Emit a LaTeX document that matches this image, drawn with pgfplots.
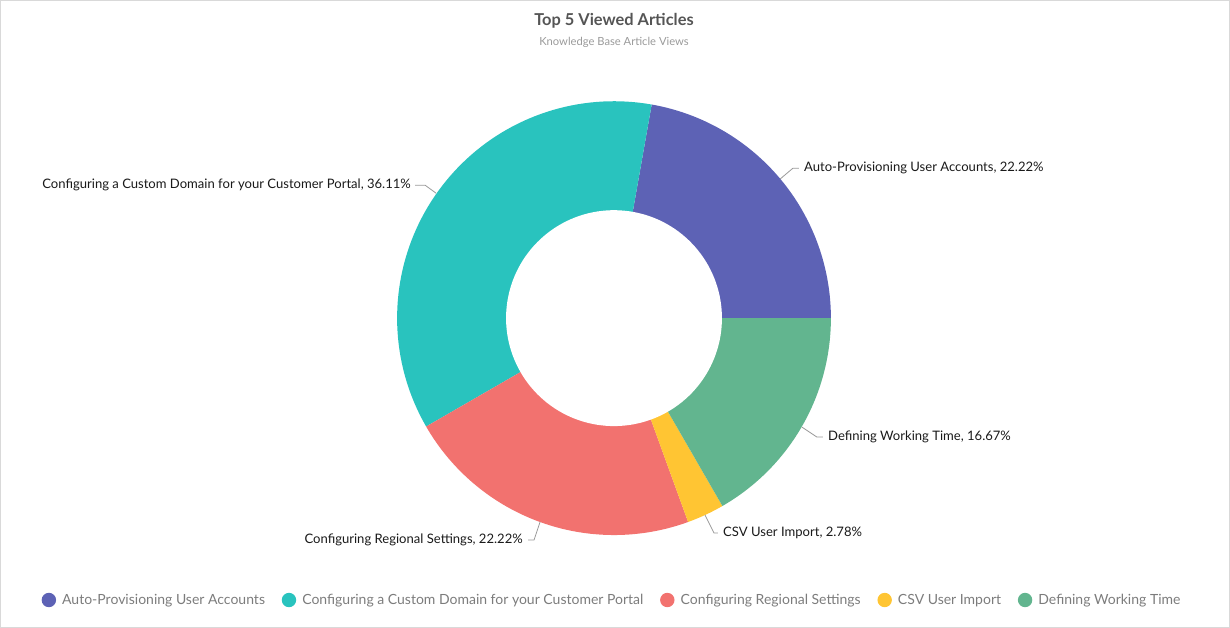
\documentclass[border=0pt]{standalone}
\usepackage{pgfplots}
\pgfplotsset{compat=1.18}
\usepackage{fontspec}
\setmainfont{Lato}
\definecolor{cA}{HTML}{5D62B5}
\definecolor{cB}{HTML}{29C3BE}
\definecolor{cC}{HTML}{F2726F}
\definecolor{cD}{HTML}{FFC533}
\definecolor{cE}{HTML}{62B58F}
\definecolor{titlec}{HTML}{555555}
\definecolor{subc}{HTML}{9A9A9A}
\definecolor{legc}{HTML}{7C7C7C}
\definecolor{labc}{HTML}{1A1A1A}
\definecolor{leadc}{HTML}{9A9A9A}
\begin{document}
\begin{tikzpicture}
% data: percentages of views
\def\vA{22.22}\def\vB{36.11}\def\vC{22.22}\def\vD{2.78}\def\vE{16.67}
\pgfmathsetmacro\aA{0}
\pgfmathsetmacro\aB{\aA+3.6*\vA}
\pgfmathsetmacro\aC{\aB+3.6*\vB}
\pgfmathsetmacro\aD{\aC+3.6*\vC}
\pgfmathsetmacro\aE{\aD+3.6*\vD}
\pgfmathsetmacro\aF{\aE+3.6*\vE}
\def\cx{614}\def\cy{318}\def\R{217}\def\r{108}
\begin{axis}[
  scale only axis, width=922.5pt, height=470.25pt,
  xmin=0, xmax=1230, ymin=0, ymax=627, y dir=reverse,
  xtick=\empty, ytick=\empty,
  axis line style={draw=black!15},
  clip=false,
  legend image code/.code={\fill[#1] (6pt,0pt) circle (5.4pt); \path (0pt,0pt) (14pt,0pt);},
  legend style={at={(axis cs:612,600)}, anchor=center, draw=none, fill=none,
    font=\fontsize{10.5pt}{12pt}\selectfont, text=legc,
    /tikz/every even column/.append style={column sep=10pt}},
  legend columns=-1,
]
\addplot[fill=cA, draw=none, domain=\aA:\aB, samples=80, variable=\t] ({\cx+\R*cos(\t)},{\cy-\R*sin(\t)}) -- (axis cs:\cx,\cy) -- cycle;
\addplot[fill=cB, draw=none, domain=\aB:\aC, samples=80, variable=\t] ({\cx+\R*cos(\t)},{\cy-\R*sin(\t)}) -- (axis cs:\cx,\cy) -- cycle;
\addplot[fill=cC, draw=none, domain=\aC:\aD, samples=80, variable=\t] ({\cx+\R*cos(\t)},{\cy-\R*sin(\t)}) -- (axis cs:\cx,\cy) -- cycle;
\addplot[fill=cD, draw=none, domain=\aD:\aE, samples=20, variable=\t] ({\cx+\R*cos(\t)},{\cy-\R*sin(\t)}) -- (axis cs:\cx,\cy) -- cycle;
\addplot[fill=cE, draw=none, domain=\aE:\aF, samples=80, variable=\t] ({\cx+\R*cos(\t)},{\cy-\R*sin(\t)}) -- (axis cs:\cx,\cy) -- cycle;
\addplot[fill=white, draw=none, domain=0:360, samples=150, forget plot] ({\cx+\r*cos(x)},{\cy-\r*sin(x)}) -- cycle;
\legend{Auto-Provisioning User Accounts, Configuring a Custom Domain for your Customer Portal, Configuring Regional Settings, CSV User Import, Defining Working Time}
% leader lines
\addplot[leadc, line width=0.6pt, forget plot] coordinates {(780,179) (793,168) (799,168)};
\addplot[leadc, line width=0.6pt, forget plot] coordinates {(436,193) (425,185) (415,185)};
\addplot[leadc, line width=0.6pt, forget plot] coordinates {(802,427) (817,437) (823,437)};
\addplot[leadc, line width=0.6pt, forget plot] coordinates {(705,515) (714,533) (718,533)};
\addplot[leadc, line width=0.6pt, forget plot] coordinates {(540,522) (534,540) (528,540)};
% labels
\begin{scope}[every node/.style={inner sep=0pt, text=labc, font=\fontsize{9.8pt}{11pt}\selectfont}]
\node[anchor=west] at (axis cs:804,168) {Auto-Provisioning User Accounts, 22.22\%};
\node[anchor=east] at (axis cs:411,185) {Configuring a Custom Domain for your Customer Portal, 36.11\%};
\node[anchor=west] at (axis cs:828,437) {Defining Working Time, 16.67\%};
\node[anchor=west] at (axis cs:723,533) {CSV User Import, 2.78\%};
\node[anchor=east] at (axis cs:523,540) {Configuring Regional Settings, 22.22\%};
\end{scope}
\node[text=titlec, font=\fontsize{12.3pt}{14pt}\selectfont\bfseries] at (axis cs:614,21) {Top 5 Viewed Articles};
\node[text=subc, font=\fontsize{8.4pt}{10pt}\selectfont] at (axis cs:614,42) {Knowledge Base Article Views};
\end{axis}
\end{tikzpicture}
\end{document}
